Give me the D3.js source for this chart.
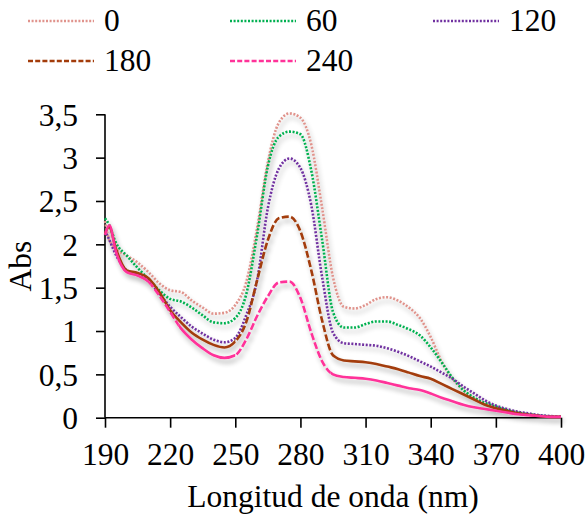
<!DOCTYPE html>
<html><head><meta charset="utf-8">
<script src="https://cdn.jsdelivr.net/npm/d3@7"></script>
<style>
html,body{margin:0;padding:0;background:#fff;}
svg text{font-family:"Liberation Serif","Times New Roman","DejaVu Serif",serif !important;fill:#000;}
</style></head>
<body><svg id="c" width="588" height="516"></svg>
<script>
const wavelengths = [190,192,195,200,205,210,215,220,225,230,235,240,245,250,255,260,265,270,275,280,285,290,295,300,305,310,315,320,325,330,335,340,345,350,355,360,365,370,375,380,385,390,395,400];
const s0   = [2.27,2.05,1.95,1.87,1.79,1.68,1.55,1.47,1.45,1.35,1.27,1.20,1.21,1.30,1.56,2.18,2.95,3.40,3.51,3.46,3.15,2.42,1.62,1.28,1.26,1.30,1.37,1.39,1.35,1.27,1.15,0.93,0.65,0.45,0.32,0.23,0.17,0.12,0.085,0.06,0.04,0.025,0.015,0.01];
const s60  = [2.30,2.22,2.02,1.87,1.73,1.60,1.47,1.37,1.34,1.27,1.18,1.10,1.09,1.15,1.42,2.10,2.90,3.24,3.30,3.27,2.85,2.05,1.22,1.04,1.04,1.08,1.11,1.11,1.07,1.02,0.95,0.81,0.64,0.46,0.32,0.23,0.17,0.13,0.09,0.06,0.04,0.025,0.015,0.01];
const s120 = [2.16,2.05,1.88,1.70,1.65,1.58,1.43,1.28,1.16,1.05,0.97,0.90,0.87,0.92,1.18,1.58,2.42,2.87,2.99,2.88,2.45,1.62,0.98,0.86,0.85,0.84,0.83,0.80,0.76,0.71,0.65,0.59,0.52,0.45,0.36,0.28,0.20,0.14,0.10,0.07,0.05,0.03,0.02,0.01];
const s180 = [2.13,2.20,1.95,1.70,1.67,1.61,1.45,1.24,1.10,0.98,0.90,0.84,0.81,0.88,1.10,1.58,2.05,2.30,2.32,2.15,1.70,1.12,0.72,0.66,0.65,0.64,0.62,0.59,0.56,0.52,0.48,0.45,0.39,0.33,0.27,0.21,0.15,0.11,0.08,0.05,0.035,0.02,0.01,0.01];
const s240 = [2.11,2.22,1.92,1.68,1.64,1.57,1.41,1.22,1.03,0.90,0.80,0.72,0.69,0.72,0.90,1.17,1.40,1.56,1.57,1.38,0.98,0.65,0.50,0.47,0.46,0.45,0.43,0.40,0.37,0.34,0.32,0.28,0.23,0.19,0.15,0.12,0.10,0.08,0.06,0.04,0.03,0.02,0.01,0.01];
const seriesNames = ["0","60","120","180","240"];
const xTicks = [190,220,250,280,310,340,370,400];
const yTicks = [0,0.5,1,1.5,2,2.5,3,3.5];
const yTickLabels = ["0","0,5","1","1,5","2","2,5","3","3,5"];

const seriesValues = [s0,s60,s120,s180,s240];
const colors = ["#E0938C","#00B050","#7030A0","#A33C0B","#FF3399"];
const dashes = ["2,1.6","2,1.6","2,1.6","7,2.5","7,2.5"];
// wavelength ranges drawn dashed for the dashed series (elsewhere drawn solid)
const dashedRanges = [null,null,null,[[250,295]],[[211,224],[250,294]]];

const FONT = '"Liberation Serif","Times New Roman","DejaVu Serif",serif';
const svg = d3.select("#c");
const x = d3.scaleLinear().domain([190,400]).range([105,561]);
const y = d3.scaleLinear().domain([0,3.5]).range([417.7,114.3]);
const FS = 31.5;

const defs = svg.append("defs");
const f = defs.append("filter").attr("id","sh").attr("x","-10%").attr("y","-10%").attr("width","130%").attr("height","130%");
f.append("feGaussianBlur").attr("in","SourceAlpha").attr("stdDeviation",2.5).attr("result","b");
f.append("feOffset").attr("in","b").attr("dx",2).attr("dy",4).attr("result","o");
f.append("feComponentTransfer").attr("in","o").attr("result","o2").append("feFuncA").attr("type","linear").attr("slope",0.3);
const m = f.append("feMerge"); m.append("feMergeNode").attr("in","o2"); m.append("feMergeNode").attr("in","SourceGraphic");

// axes
const xAxis = d3.axisBottom(x).tickValues(xTicks).tickSize(10).tickPadding(8).tickFormat(d3.format("d"));
const gx = svg.append("g").attr("transform","translate(0,417.7)").call(xAxis).attr("font-family",FONT);
gx.select(".domain").attr("d",`M${x(190)},0H${x(400)}`).attr("stroke","#000").attr("stroke-width",1.6);
gx.selectAll(".tick line").attr("stroke","#000").attr("stroke-width",1.6);
gx.selectAll(".tick text").attr("font-size",FS).attr("font-family",FONT).attr("dy",null).attr("y",47);

const yAxis = d3.axisLeft(y).tickValues(yTicks).tickSize(9).tickPadding(18).tickFormat((d,i)=>yTickLabels[i]);
const gy = svg.append("g").attr("transform",`translate(${x(190)},0)`).call(yAxis).attr("font-family",FONT);
gy.select(".domain").attr("d",`M0,${y(0)}V${y(3.5)}`).attr("stroke","#000").attr("stroke-width",1.6);
gy.selectAll(".tick line").attr("stroke","#000").attr("stroke-width",1.6);
gy.selectAll(".tick text").attr("font-size",FS).attr("font-family",FONT).attr("dy","0.34em");

// lines
const line = d3.line().x((d,i)=>x(wavelengths[i])).y(d=>y(d)).curve(d3.curveMonotoneX);
const plot = svg.append("g").attr("filter","url(#sh)");
seriesValues.forEach((vals,k)=>{
  const dpath = line(vals);
  if(!dashedRanges[k]){
    plot.append("path").attr("d",dpath).attr("fill","none").attr("stroke",colors[k]).attr("stroke-width",2.6).attr("stroke-dasharray",dashes[k]);
  } else {
    const idD = "cd"+k, idS = "cs"+k;
    const cd = defs.append("clipPath").attr("id",idD);
    dashedRanges[k].forEach(r=>cd.append("rect").attr("x",x(r[0])).attr("y",0).attr("width",x(r[1])-x(r[0])).attr("height",516));
    const cs = defs.append("clipPath").attr("id",idS);
    const edges = [190-5].concat(...dashedRanges[k]).concat([405]);
    for(let i=0;i<edges.length;i+=2){
      cs.append("rect").attr("x",x(edges[i])).attr("y",0).attr("width",x(edges[i+1])-x(edges[i])).attr("height",516);
    }
    plot.append("path").attr("d",dpath).attr("fill","none").attr("stroke",colors[k]).attr("stroke-width",2.6).attr("clip-path",`url(#${idS})`);
    plot.append("path").attr("d",dpath).attr("fill","none").attr("stroke",colors[k]).attr("stroke-width",2.6).attr("stroke-dasharray",dashes[k]).attr("clip-path",`url(#${idD})`);
  }
});

// axis titles
svg.append("text").attr("x",(x(190)+x(400))/2).attr("y",507).attr("text-anchor","middle").attr("font-size",FS).attr("font-family",FONT).text("Longitud de onda (nm)");
svg.append("text").attr("transform",`translate(31,${(y(0)+y(3.5))/2}) rotate(-90)`).attr("text-anchor","middle").attr("font-size",FS).attr("font-family",FONT).text("Abs");

// legend
const legPos = [[28,26],[230,26],[433,26],[28,66],[230,66]];
seriesNames.forEach((n,k)=>{
  const [lx,ly] = legPos[k];
  svg.append("line").attr("x1",lx).attr("x2",lx+66).attr("y1",ly-5).attr("y2",ly-5).attr("stroke",colors[k]).attr("stroke-width",2.6).attr("stroke-dasharray",k<3?"2,1.6":"5,2.2");
  svg.append("text").attr("x",lx+76).attr("y",ly+5).attr("font-size",FS).attr("font-family",FONT).text(n);
});
</script></body></html>
